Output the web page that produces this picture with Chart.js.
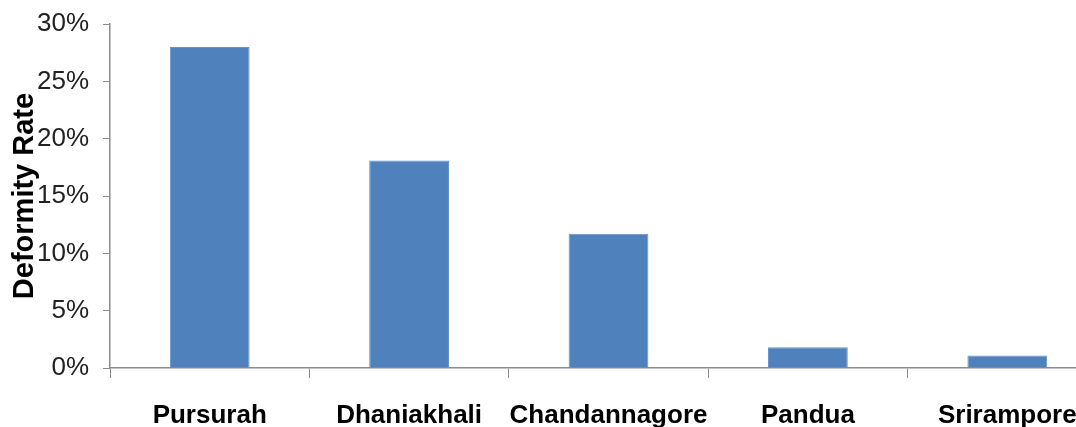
<!DOCTYPE html>
<html>
<head>
<meta charset="utf-8">
<script src="https://cdn.jsdelivr.net/npm/chart.js@4"></script>
<style>
  html, body { margin: 0; padding: 0; background: #fff; overflow: hidden; }
  #wrap { width: 1110px; height: 427px; }
</style>
</head>
<body>
<div id="wrap"><canvas id="rateChart" width="1110" height="427"></canvas></div>
<script>
// values (percent)
const places = ['Pursurah', 'Dhaniakhali', 'Chandannagore', 'Pandua', 'Srirampore']
const deformityRate = [28, 18.1, 11.7, 1.8, 1.1]
const yTicks = [0, 5, 10, 15, 20, 25, 30]

Chart.defaults.font.family = '"Liberation Sans", Arial, sans-serif'
Chart.defaults.color = '#111'

const axisGrey = '#8c8c8c'

const data = {
    labels: places,
    datasets: [{
        data: deformityRate,
        backgroundColor: '#4f81bd',
        borderColor: '#6690c6',
        borderWidth: 1,
        barPercentage: 0.4,
        categoryPercentage: 1
    }]
}

const options = {
    responsive: false,
    animation: false,
    layout: { padding: { top: 24, right: 3, left: 8, bottom: 0 } },
    plugins: {
        legend: { display: false },
        tooltip: { enabled: false }
    },
    scales: {
        x: {
            grid: {
                offset: true,
                drawOnChartArea: false,
                drawTicks: true,
                tickLength: 10,
                color: axisGrey
            },
            border: { color: axisGrey, width: 1.5 },
            ticks: {
                autoSkip: false,
                padding: 22,
                maxRotation: 0,
                font: { size: 26, weight: 'bold' },
                color: '#000'
            },
            afterFit: scale => { scale.height = 59 }
        },
        y: {
            min: 0,
            max: 30,
            afterBuildTicks: scale => { scale.ticks = yTicks.map(v => ({ value: v })) },
            grid: {
                drawOnChartArea: false,
                drawTicks: true,
                tickLength: 7,
                color: axisGrey
            },
            border: { color: axisGrey, width: 1.5 },
            ticks: {
                padding: 14,
                font: { size: 26 },
                color: '#222',
                callback: v => v + '%'
            },
            title: {
                display: true,
                text: 'Deformity Rate',
                font: { size: 29, weight: 'bold' },
                color: '#000',
                padding: 0
            },
            afterFit: scale => {
                scale.width = 102
                scale.paddingTop = 0
            }
        }
    }
}

new Chart('rateChart', { type: 'bar', data, options })
</script>
</body>
</html>
